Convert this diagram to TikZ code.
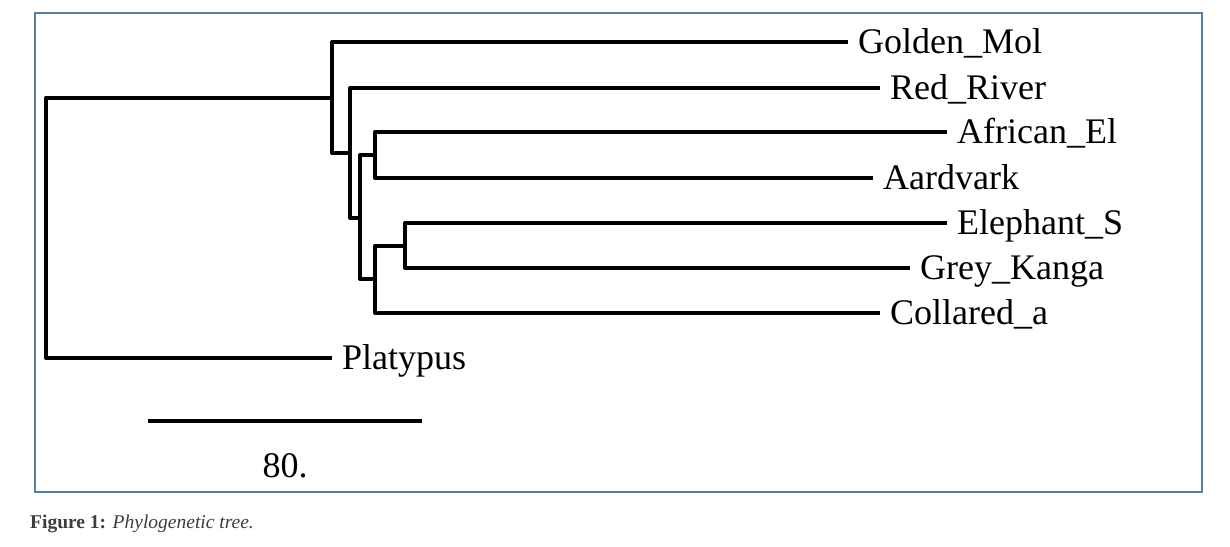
\documentclass[tikz,border=0pt]{standalone}
\usepackage{fontspec}
\setmainfont{Liberation Serif}
\definecolor{framecol}{RGB}{84,128,166}
\definecolor{capcol}{RGB}{60,60,60}
\begin{document}
\begin{tikzpicture}[x=1pt,y=-1pt,
  branch/.style={line width=4pt,line join=round,line cap=butt},
  leaf/.style={anchor=west,inner xsep=10pt,inner ysep=0pt,text height=23.5pt,text depth=0pt,
    font=\fontsize{36}{40}\selectfont},
  framebox/.style={draw=framecol,line width=1.5pt}]
\useasboundingbox (0,0) rectangle (1230,546);
\draw[framebox] (35,13) rectangle (1202,492);
% internal nodes
\coordinate (r) at (46,227.5);
\coordinate (A) at (332,97.5);
\coordinate (B) at (350,153);
\coordinate (C) at (360,217.5);
\coordinate (D) at (375,155);
\coordinate (E) at (375,279);
\coordinate (F) at (405,245.5);
% leaves
\node[leaf] (gm) at (848,42) {Golden\_Mol};
\node[leaf] (rr) at (880,88) {Red\_River};
\node[leaf] (ae) at (947,132) {African\_El};
\node[leaf] (aa) at (873,178) {Aardvark};
\node[leaf] (es) at (947,223) {Elephant\_S};
\node[leaf] (gk) at (910,268) {Grey\_Kanga};
\node[leaf] (ca) at (880,313) {Collared\_a};
\node[leaf] (pl) at (332,358) {Platypus};
% branches
\draw[branch] (r) |- (A);
\draw[branch] (r) |- (pl.west);
\draw[branch] (A) |- (gm.west);
\draw[branch] (A) |- (B);
\draw[branch] (B) |- (rr.west);
\draw[branch] (B) |- (C);
\draw[branch] (C) |- (D);
\draw[branch] (C) |- (E);
\draw[branch] (D) |- (ae.west);
\draw[branch] (D) |- (aa.west);
\draw[branch] (E) |- (F);
\draw[branch] (E) |- (ca.west);
\draw[branch] (F) |- (es.west);
\draw[branch] (F) |- (gk.west);
% scale bar
\coordinate (s1) at (148,421);
\coordinate (s2) at (422,421);
\draw[branch] (s1) -- (s2);
\node[font=\fontsize{36}{40}\selectfont,inner sep=0pt] (sl) at (285,466) {80.};
% caption
\node[anchor=base west,inner sep=0pt,text=capcol,font=\fontsize{19.5}{22}\selectfont] (cap) at (30,528)
  {\textbf{Figure 1:} \textit{Phylogenetic tree.}};
\end{tikzpicture}
\end{document}
